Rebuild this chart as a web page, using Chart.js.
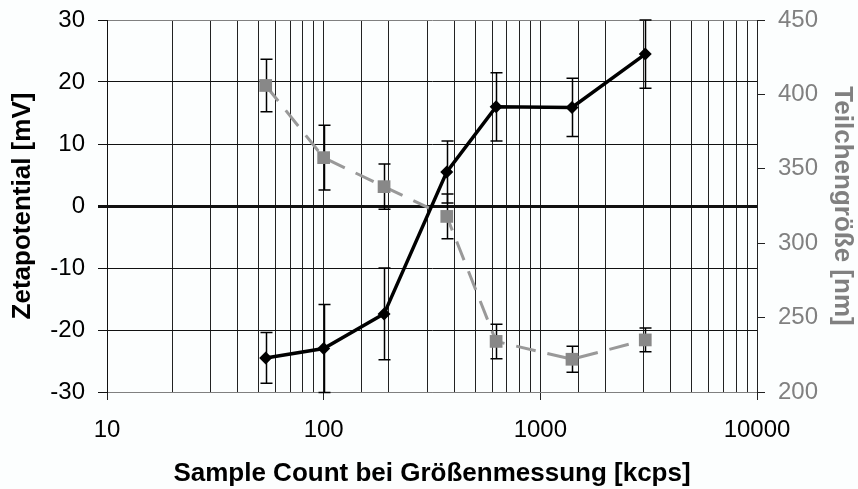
<!DOCTYPE html>
<html>
<head>
<meta charset="utf-8">
<script src="https://cdn.jsdelivr.net/npm/chart.js@4.4.1/dist/chart.umd.min.js"></script>
<style>
  html, body { margin: 0; padding: 0; background: #fcfefe; }
  #wrap { width: 858px; height: 489px; }
</style>
</head>
<body>
<div id="wrap"><canvas id="c" width="858" height="489"></canvas></div>
<script>
// Sample count during size measurement [kcps]
const sampleCount = [54, 100, 190, 370, 625, 1400, 3050];
// Zeta potential [mV] with standard deviation
const zeta = [-24.5, -23.0, -17.4, 5.5, 16.0, 15.9, 24.5];
const zetaErr = [4.1, 7.1, 7.4, 5.0, 5.5, 4.7, 5.5];
// Particle size [nm] with standard deviation
const size = [406, 357.5, 338, 318, 234, 222, 235];
const sizeErr = [17.6, 21.8, 15.2, 15.0, 11.6, 8.7, 8.0];

const zetaTicks = [-30, -20, -10, 0, 10, 20, 30];
const sizeTicks = [200, 250, 300, 350, 400, 450];
const xTickLabels = [10, 100, 1000, 10000];

const FONT = "'Liberation Sans', Arial, sans-serif";
const GREY = '#808080';

const toPoints = (xs, ys) => xs.map((x, i) => ({ x: x, y: ys[i] }));

// vertical error bars with caps, drawn beneath the markers
const errorBars = {
  id: 'errorBars',
  beforeDatasetsDraw(chart) {
    const ctx = chart.ctx;
    const xs = chart.scales.x;
    chart.data.datasets.forEach((ds) => {
      const ys = chart.scales[ds.yAxisID];
      ctx.save();
      ctx.strokeStyle = '#000';
      ctx.lineWidth = 1.5;
      ds.data.forEach((p, i) => {
        const e = ds.errors[i];
        const px = Math.round(xs.getPixelForValue(p.x)) + 0.5;
        const top = ys.getPixelForValue(p.y + e);
        const bot = ys.getPixelForValue(p.y - e);
        ctx.beginPath();
        ctx.moveTo(px, top); ctx.lineTo(px, bot);
        ctx.moveTo(px - 6, top); ctx.lineTo(px + 6, top);
        ctx.moveTo(px - 6, bot); ctx.lineTo(px + 6, bot);
        ctx.stroke();
      });
      ctx.restore();
    });
  }
};

const background = {
  id: 'background',
  beforeDraw(chart) {
    const ctx = chart.ctx;
    ctx.save();
    ctx.fillStyle = '#fcfefe';
    ctx.fillRect(0, 0, chart.width, chart.height);
    ctx.restore();
  }
};

const isMajor = (v) => Math.abs(Math.log10(v) - Math.round(Math.log10(v))) < 1e-9;

// fixed axis box width; the end labels may overhang the plot area
const fixWidth = (w) => (s) => {
  s.width = w;
  s.paddingTop = 0;
  s.paddingBottom = 0;
};

new Chart(document.getElementById('c'), {
  type: 'line',
  data: {
    datasets: [
      {
        label: 'Zetapotential',
        data: toPoints(sampleCount, zeta),
        errors: zetaErr,
        yAxisID: 'y',
        borderColor: '#000',
        backgroundColor: '#000',
        borderWidth: 3.5,
        pointStyle: 'rectRot',
        pointRadius: 6.5,
        pointBorderWidth: 0,
        order: 0
      },
      {
        label: 'Teilchengröße',
        data: toPoints(sampleCount, size),
        errors: sizeErr,
        yAxisID: 'y1',
        borderColor: '#999999',
        backgroundColor: '#888888',
        borderWidth: 3,
        borderDash: [20, 12],
        pointStyle: 'rect',
        pointRadius: 9,
        pointBorderWidth: 0,
        order: 1
      }
    ]
  },
  options: {
    responsive: false,
    animation: false,
    events: [],
    devicePixelRatio: 1,
    layout: { padding: { top: 20, left: 0, right: 0, bottom: 0 } },
    plugins: {
      legend: { display: false },
      tooltip: { enabled: false }
    },
    scales: {
      x: {
        type: 'logarithmic',
        min: 10,
        max: 10000,
        afterFit(s) { s.height = 97; },
        grid: {
          color: '#222',
          lineWidth: 1,
          tickLength: 8,
          tickColor: (c) => (c.tick && isMajor(c.tick.value) ? '#222' : 'rgba(0,0,0,0)')
        },
        border: { color: GREY, width: 1 },
        ticks: {
          autoSkip: false,
          maxRotation: 0,
          padding: 16,
          color: '#000',
          font: { family: FONT, size: 24 },
          callback: (v) => (xTickLabels.includes(Math.round(v)) && isMajor(v) ? String(Math.round(v)) : '')
        },
        title: {
          display: true,
          text: 'Sample Count bei Größenmessung [kcps]',
          color: '#000',
          font: { family: FONT, size: 26, weight: 'bold' },
          padding: { top: 0, bottom: 0 }
        }
      },
      y: {
        position: 'left',
        min: -30,
        max: 30,
        afterFit: fixWidth(107),
        afterBuildTicks(s) { s.ticks = zetaTicks.map((v) => ({ value: v })); },
        grid: {
          color: (c) => (c.tick && Math.abs(c.tick.value) === 30 ? GREY : '#111'),
          lineWidth: (c) => (c.tick && c.tick.value === 0 ? 3 : 1),
          tickLength: 9,
          tickColor: '#111'
        },
        border: { color: '#111', width: 1 },
        ticks: {
          padding: 13,
          color: '#000',
          font: { family: FONT, size: 24 }
        },
        title: {
          display: true,
          text: 'Zetapotential [mV]',
          color: '#000',
          font: { family: FONT, size: 26, weight: 'bold' },
          padding: { top: 7, bottom: 0 }
        }
      },
      y1: {
        position: 'right',
        min: 200,
        max: 450,
        afterFit: fixWidth(101),
        afterBuildTicks(s) { s.ticks = sizeTicks.map((v) => ({ value: v })); },
        grid: {
          drawOnChartArea: false,
          tickLength: 8,
          tickColor: '#222'
        },
        border: { color: '#222', width: 1 },
        ticks: {
          padding: 13,
          color: GREY,
          font: { family: FONT, size: 24 }
        },
        title: {
          display: true,
          text: 'Teilchengröße [nm]',
          color: GREY,
          font: { family: FONT, size: 26, weight: 'bold' },
          padding: { top: 0, bottom: 0 }
        }
      }
    }
  },
  plugins: [background, errorBars]
});
</script>
</body>
</html>
